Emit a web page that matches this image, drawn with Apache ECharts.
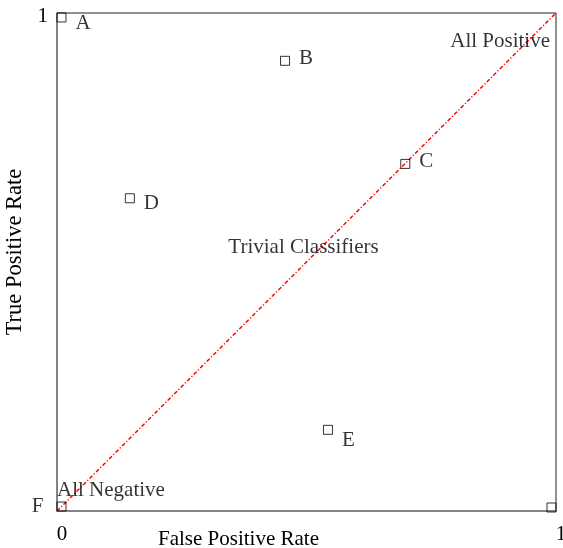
<!DOCTYPE html>
<html>
<head>
<meta charset="utf-8">
<script src="https://cdn.jsdelivr.net/npm/echarts@6/dist/echarts.min.js"></script>
<style>html,body{margin:0;padding:0;background:#fff}#c{width:563px;height:548px}</style>
</head>
<body>
<div id="c"></div>
<script>
// Data
var pointNames = ['A', 'B', 'C', 'D', 'E', 'F', ''];
var pointFPR   = [0.009, 0.457, 0.698, 0.146, 0.543, 0.009, 0.991];
var pointTPR   = [0.991, 0.904, 0.697, 0.628, 0.163, 0.009, 0.007];
var diagX = [0, 1];
var diagY = [0, 1];
var noteTexts = ['Trivial Classifiers', 'All Positive', 'All Negative'];
var noteX = [0.494, 0.988, 0.0];
var noteY = [0.530, 0.943, 0.042];
var xTickLabels = ['0', '1'];
var yTickLabels = ['', '1'];

// Styles (label offsets per point)
var labelStyle = {
  A: {position: 'right', offset: [0, 6]},
  B: {position: 'right', offset: [0, -2.5]},
  C: {position: 'right', offset: [0, -2]},
  D: {position: 'right', offset: [0, 5.5]},
  E: {position: 'right', offset: [0, 11]},
  F: {position: 'left', offset: [0, 0], distance: 13}
};
var noteAlign = ['center', 'right', 'left'];

var FONT = '"Liberation Serif", "DejaVu Serif", serif';
var FS = 21;

var pts = pointNames.map(function (n, i) {
  var ls = labelStyle[n] || {};
  return {
    name: n,
    value: [pointFPR[i], pointTPR[i]],
    label: {
      show: !!n,
      position: ls.position || 'right',
      distance: ls.distance != null ? ls.distance : 9,
      offset: ls.offset || [0, 0]
    }
  };
});

var notes = noteTexts.map(function (t, i) {
  return {
    name: t,
    value: [noteX[i], noteY[i]],
    label: {show: true, position: [0, 0], align: noteAlign[i], verticalAlign: 'middle', formatter: t}
  };
});

var chart = echarts.init(document.getElementById('c'), null, {renderer: 'canvas'});
chart.setOption({
  animation: false,
  backgroundColor: '#fff',
  grid: {left: 57, right: 7, top: 13, bottom: 37, containLabel: false, outerBoundsMode: 'none',
         show: true, borderColor: '#222', borderWidth: 1, backgroundColor: 'transparent'},
  xAxis: {
    type: 'value', min: 0, max: 1, interval: 1,
    name: 'False Positive Rate', nameLocation: 'middle', nameGap: 18, nameMoveOverlap: false,
    nameTextStyle: {fontFamily: FONT, fontSize: FS, color: '#000', padding: [0, 136, 0, 0]},
    axisLine: {show: true, onZero: false, lineStyle: {color: '#808080', width: 1.5}},
    axisTick: {show: false},
    splitLine: {show: false},
    axisLabel: {
      show: true, margin: 13, fontFamily: FONT, fontSize: FS, color: '#000',
      padding: [0, 0, 0, 10],
      formatter: function (v) { return v === 0 ? xTickLabels[0] : (v === 1 ? xTickLabels[1] : ''); }
    }
  },
  yAxis: {
    type: 'value', min: 0, max: 1, interval: 1,
    name: 'True Positive Rate', nameLocation: 'middle', nameGap: 30, nameMoveOverlap: false,
    nameTextStyle: {fontFamily: FONT, fontSize: 22.5, color: '#000', padding: [0, 0, 0, 20]},
    axisLine: {show: true, onZero: false, lineStyle: {color: '#808080', width: 1.5}},
    axisTick: {show: false},
    splitLine: {show: false},
    axisLabel: {
      show: true, margin: 9, fontFamily: FONT, fontSize: FS, color: '#000',
      verticalAlign: 'top', lineHeight: 6,
      formatter: function (v) { return v === 0 ? yTickLabels[0] : (v === 1 ? yTickLabels[1] : ''); }
    }
  },
  series: [
    {
      type: 'line',
      data: diagX.map(function (x, i) { return [x, diagY[i]]; }),
      symbol: 'none',
      lineStyle: {color: '#ff0000', width: 1.5, type: [4, 2, 1.2, 2]},
      z: 2
    },
    {
      type: 'scatter',
      data: pts,
      symbol: 'rect',
      symbolSize: 9,
      itemStyle: {color: 'rgba(0,0,0,0)', borderColor: '#000', borderWidth: 1},
      label: {color: '#000', fontFamily: FONT, fontSize: FS, formatter: '{b}'},
      emphasis: {disabled: true},
      z: 3
    },
    {
      type: 'scatter',
      data: notes,
      symbolSize: 0,
      label: {color: '#000', fontFamily: FONT, fontSize: FS},
      emphasis: {disabled: true},
      silent: true,
      z: 4
    }
  ]
});
</script>
</body>
</html>
